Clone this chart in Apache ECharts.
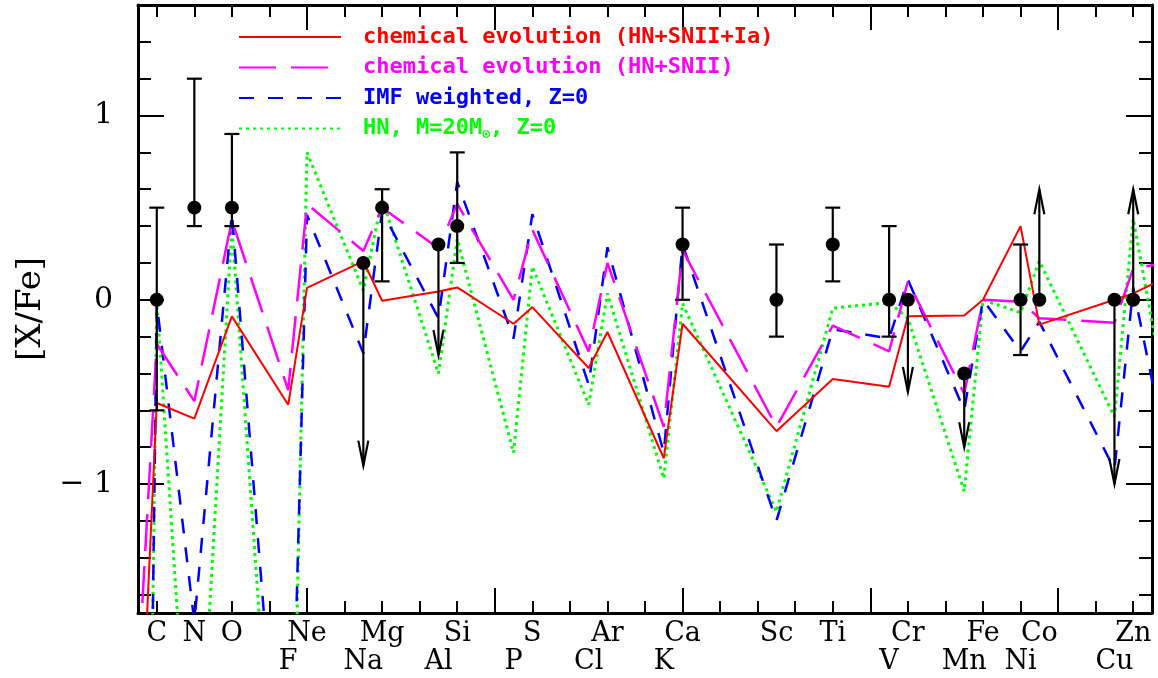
<!DOCTYPE html>
<html>
<head>
<meta charset="utf-8">
<script src="https://cdn.jsdelivr.net/npm/echarts@6/dist/echarts.min.js"></script>
<style>
  html, body { margin: 0; padding: 0; background: #fff; }
  #chart { width: 1158px; height: 678px; }
</style>
</head>
<body>
<div id="chart"></div>
<script>
// elements in the order they sit along the x axis (Ni is placed left of Co)
const elements = ['C', 'N', 'O', 'F', 'Ne', 'Na', 'Mg', 'Al', 'Si', 'P', 'S', 'Cl', 'Ar', 'K', 'Ca', 'Sc', 'Ti', 'V', 'Cr', 'Mn', 'Fe', 'Ni', 'Co', 'Cu', 'Zn'];
const xPos = [2, 4, 6, 9, 10, 13, 14, 17, 18, 21, 22, 25, 26, 29, 30, 35, 38, 41, 42, 45, 46, 48, 49, 53, 54];
const labelRow = [1, 1, 1, 2, 1, 2, 1, 2, 1, 2, 1, 2, 1, 2, 1, 1, 1, 2, 1, 2, 1, 2, 1, 2, 1];

// model curves: first and last value belong to neighbours outside the frame
const lineX = [0, ...xPos, 57];
const evoIa  = [-5.0, -0.56, -0.645, -0.09, -0.57, 0.065, 0.21, -0.005, 0.045, 0.067, -0.13, -0.04, -0.37, -0.175, -0.86, -0.13, -0.713, -0.43, -0.472, -0.09, -0.085, 0.0, 0.4, -0.135, 0.0, 0.035, 0.18];
const evoII  = [-3.9, -0.24, -0.55, 0.43, -0.49, 0.52, 0.265, 0.5, 0.28, 0.52, 0.0, 0.38, -0.28, 0.2, -0.69, 0.27, -0.69, -0.14, -0.28, 0.1, -0.51, 0.0, -0.01, -0.1, -0.125, 0.17, 0.22];
const imfZ0  = [-16, -0.02, -1.75, 0.47, -3.35, 0.46, -0.29, 0.48, -0.1, 0.64, -0.21, 0.465, -0.46, 0.285, -0.83, 0.3, -1.2, -0.16, -0.21, 0.11, -0.6, 0.0, -0.28, -0.12, -0.92, 0.065, -1.44];
const hn20   = [-16, 0.0, -3.1, 0.4, -3.95, 0.8, 0.05, 0.55, -0.4, 0.33, -0.83, 0.18, -0.57, 0.035, -0.97, -0.02, -1.15, -0.045, -0.015, -0.1, -1.04, 0.0, -0.07, 0.21, -0.635, 0.44, -1.24];

// observed abundances: value, lower / upper end, and limit direction
const obsEl    = ['C', 'N', 'O', 'Na', 'Mg', 'Al', 'Si', 'Ca', 'Sc', 'Ti', 'V', 'Cr', 'Mn', 'Ni', 'Co', 'Cu', 'Zn'];
const obsVal   = [0.0, 0.5, 0.5, 0.2, 0.5, 0.3, 0.4, 0.3, 0.0, 0.3, 0.0, 0.0, -0.4, 0.0, 0.0, 0.0, 0.0];
const obsLo    = [-0.6, 0.4, 0.4, -0.9, 0.1, -0.3, 0.2, 0.0, -0.2, 0.1, -0.2, -0.5, -0.8, -0.3, 0.0, -1.0, 0.0];
const obsHi    = [0.5, 1.2, 0.9, 0.2, 0.6, 0.3, 0.8, 0.5, 0.3, 0.5, 0.4, 0.0, -0.4, 0.3, 0.6, 0.0, 0.6];
const obsLimit = ['', '', '', 'down', '', 'down', '', '', '', '', '', 'down', 'down', '', 'up', 'down', 'up'];

// axis ticks
const xMajor = [10, 20, 30, 40, 50];
const xMinor = [2, 4, 6, 8, 10, 12, 14, 16, 18, 20, 22, 24, 26, 28, 30, 32, 34, 36, 38, 40, 42, 44, 46, 48, 50, 52, 54];
const yMajor = [-1, 0, 1];
const yMinor = [-1.6, -1.4, -1.2, -1, -0.8, -0.6, -0.4, -0.2, 0, 0.2, 0.4, 0.6, 0.8, 1, 1.2, 1.4, 1.6];

const serif = 'DejaVu Serif';
const mono = 'DejaVu Sans Mono';

const row1 = xPos.filter((x, i) => labelRow[i] === 1);
const row2 = xPos.filter((x, i) => labelRow[i] === 2);
const nameAt = (v) => elements[xPos.indexOf(v)] || '';

const chart = echarts.init(document.getElementById('chart'));

const frame = { color: '#000', width: 3 };
const tickStyle = { color: '#000', width: 2 };

function xAx(opts) {
  return Object.assign({
    type: 'value', min: 1, max: 55, splitLine: { show: false },
    axisLine: { show: false, onZero: false },
    axisTick: { show: false },
    axisLabel: { show: false }
  }, opts);
}
function yAx(opts) {
  return Object.assign({
    type: 'value', min: -1.7, max: 1.6, splitLine: { show: false },
    axisLine: { show: false, onZero: false },
    axisTick: { show: false },
    axisLabel: { show: false }
  }, opts);
}

const lineSeries = (name, vals, color, width, dash) => ({
  name, type: 'line', xAxisIndex: 0, yAxisIndex: 0,
  data: lineX.map((x, i) => [x, vals[i]]),
  symbol: 'none', clip: true, silent: true,
  lineStyle: { color, width, type: dash, cap: 'butt' },
  itemStyle: { color }
});

const obsData = obsEl.map((e, i) => [xPos[elements.indexOf(e)], obsVal[i], obsLo[i], obsHi[i]]);

const option = {
  animation: false,
  backgroundColor: '#fff',
  grid: { left: 138, right: 6, top: 5, bottom: 65 },
  xAxis: [
    xAx({ position: 'bottom', axisLine: { show: true, onZero: false, lineStyle: frame },
      axisTick: { show: true, inside: true, length: 25, customValues: xMajor, lineStyle: tickStyle },
      axisLabel: { show: true, customValues: row1, formatter: nameAt, fontFamily: serif, fontSize: 27, color: '#000', margin: 7 } }),
    xAx({ position: 'bottom', axisTick: { show: true, inside: true, length: 12, customValues: xMinor, lineStyle: tickStyle } }),
    xAx({ position: 'bottom', offset: 28,
      axisLabel: { show: true, customValues: row2, formatter: nameAt, fontFamily: serif, fontSize: 27, color: '#000', margin: 7 } }),
    xAx({ position: 'top', axisLine: { show: true, onZero: false, lineStyle: frame },
      axisTick: { show: true, inside: true, length: 25, customValues: xMajor, lineStyle: tickStyle } }),
    xAx({ position: 'top', axisTick: { show: true, inside: true, length: 12, customValues: xMinor, lineStyle: tickStyle } })
  ],
  yAxis: [
    yAx({ position: 'left', axisLine: { show: true, onZero: false, lineStyle: frame },
      axisTick: { show: true, inside: true, length: 26, customValues: yMajor, lineStyle: tickStyle },
      axisLabel: { show: true, customValues: yMajor, formatter: (v) => v < 0 ? '\u2212 ' + (-v) : String(v),
        fontFamily: serif, fontSize: 30, color: '#000', margin: 25 },
      name: '[X/Fe]', nameLocation: 'middle', nameGap: 86,
      nameTextStyle: { fontFamily: serif, fontSize: 34, color: '#000' } }),
    yAx({ position: 'left', axisTick: { show: true, inside: true, length: 13, customValues: yMinor, lineStyle: tickStyle } }),
    yAx({ position: 'right', axisLine: { show: true, onZero: false, lineStyle: frame },
      axisTick: { show: true, inside: true, length: 26, customValues: yMajor, lineStyle: tickStyle } }),
    yAx({ position: 'right', axisTick: { show: true, inside: true, length: 13, customValues: yMinor, lineStyle: tickStyle } })
  ],
  legend: {
    left: 238, top: 26, orient: 'vertical', padding: 0, itemGap: 8.5,
    itemWidth: 102, itemHeight: 14, selectedMode: false,
    itemStyle: { opacity: 0 },
    textStyle: { fontFamily: mono, fontWeight: 'bold', fontSize: 22, lineHeight: 22, padding: [0, 0, 0, 17],
      rich: { sun: { fontFamily: mono, fontWeight: 'bold', fontSize: 13, color: '#00ff00', padding: [12, 0, 0, 0] } } },
    formatter: (n) => n.replace('M\u2299', 'M{sun|\u2299}'),
    data: [
      { name: 'chemical evolution (HN+SNII+Ia)', textStyle: { color: '#ff0000' } },
      { name: 'chemical evolution (HN+SNII)', textStyle: { color: '#ff00ff' } },
      { name: 'IMF weighted, Z=0', textStyle: { color: '#0000ff' } },
      { name: 'HN, M=20M\u2299, Z=0', textStyle: { color: '#00ff00' } }
    ]
  },
  series: [
    lineSeries('HN, M=20M\u2299, Z=0', hn20, '#00ff00', 3, [3, 4]),
    lineSeries('IMF weighted, Z=0', imfZ0, '#0000ff', 2.5, [15, 14]),
    lineSeries('chemical evolution (HN+SNII)', evoII, '#ff00ff', 2.5, [37, 15]),
    lineSeries('chemical evolution (HN+SNII+Ia)', evoIa, '#ff0000', 2, 'solid'),
    {
      type: 'custom', xAxisIndex: 0, yAxisIndex: 0, silent: true, z: 5,
      data: obsData,
      renderItem: (params, api) => {
        const i = params.dataIndex;
        const x = api.value(0);
        const p = api.coord([x, api.value(1)]);
        const lo = api.coord([x, api.value(2)]);
        const hi = api.coord([x, api.value(3)]);
        const st = { stroke: '#000', lineWidth: 2.2, fill: null };
        const kind = obsLimit[i];
        const kids = [];
        if (kind === 'down' || kind === 'up') {
          const end = kind === 'down' ? lo : hi;
          const back = kind === 'down' ? -25 : 25;
          kids.push({ type: 'line', shape: { x1: p[0], y1: p[1], x2: end[0], y2: end[1] }, style: st });
          kids.push({ type: 'polyline', shape: { points: [[end[0] - 5, end[1] + back], [end[0], end[1]], [end[0] + 5, end[1] + back]] }, style: st });
        } else {
          kids.push({ type: 'line', shape: { x1: lo[0], y1: lo[1], x2: hi[0], y2: hi[1] }, style: st });
          kids.push({ type: 'line', shape: { x1: lo[0] - 7.5, y1: lo[1], x2: lo[0] + 7.5, y2: lo[1] }, style: st });
          kids.push({ type: 'line', shape: { x1: hi[0] - 7.5, y1: hi[1], x2: hi[0] + 7.5, y2: hi[1] }, style: st });
        }
        return { type: 'group', children: kids };
      }
    },
    {
      type: 'scatter', xAxisIndex: 0, yAxisIndex: 0, silent: true, z: 6,
      data: obsData.map((d) => [d[0], d[1]]),
      symbol: 'circle', symbolSize: 14,
      itemStyle: { color: '#000', opacity: 1 }
    }
  ]
};

chart.setOption(option);
</script>
</body>
</html>
